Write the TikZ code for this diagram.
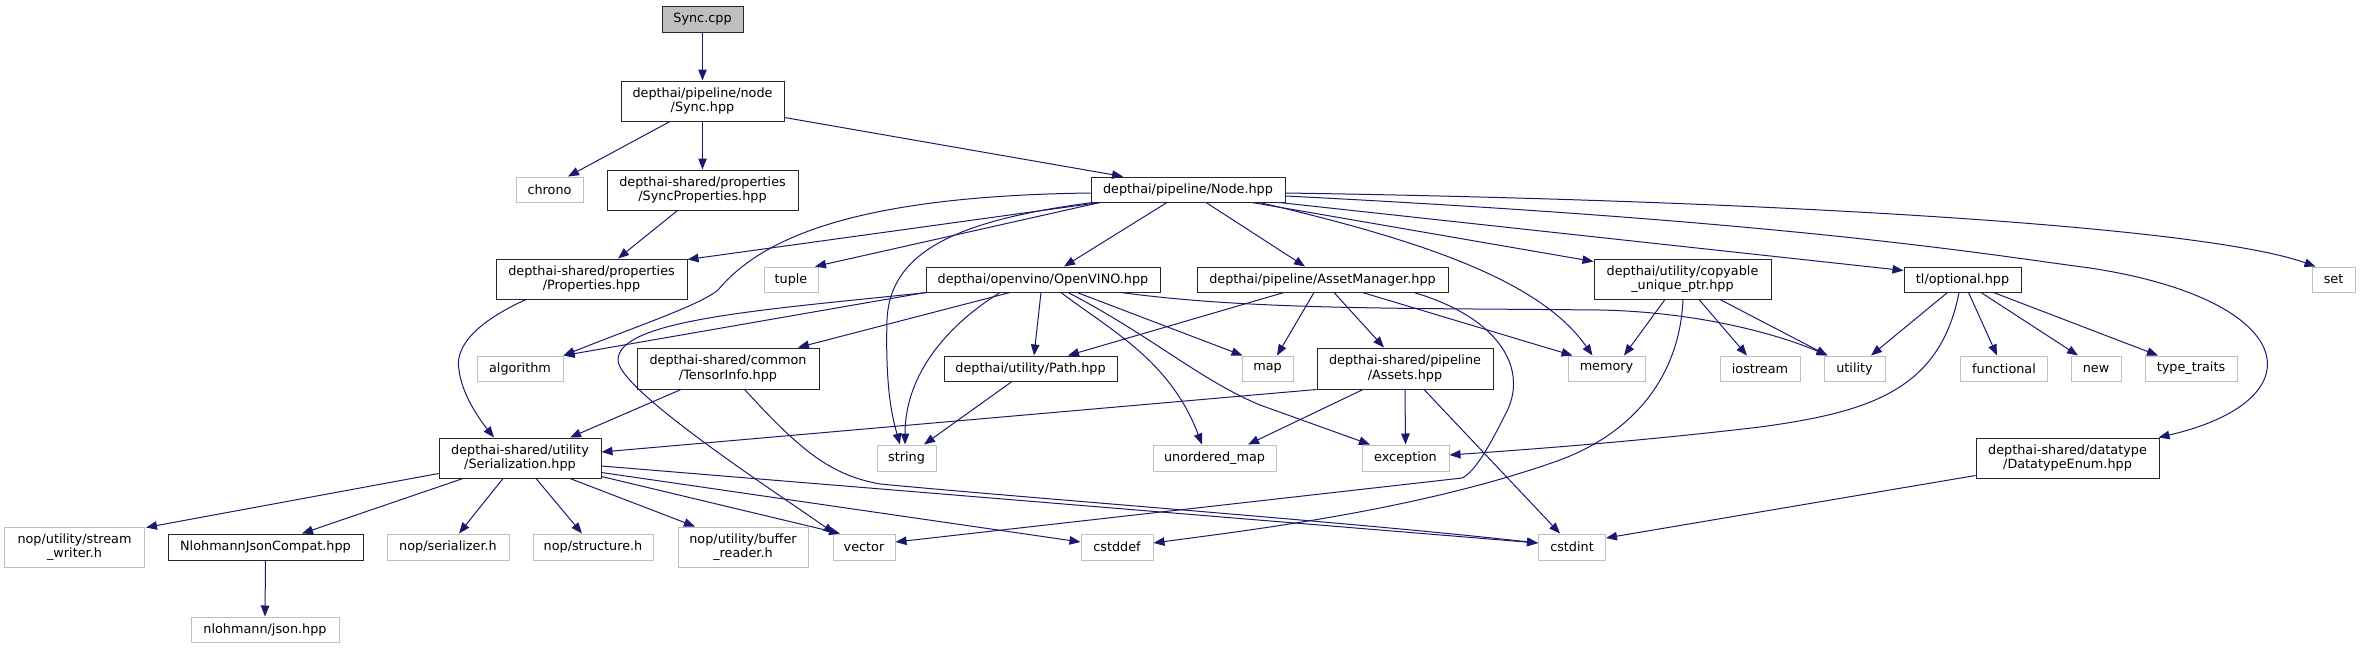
\documentclass[tikz,border=0pt]{standalone}
\usepackage{fontspec}
\setmainfont{DejaVu Sans}
\usetikzlibrary{arrows.meta,calc}
\definecolor{edgec}{HTML}{191970}
\definecolor{greyb}{HTML}{BFBFBF}
\begin{document}
\begin{tikzpicture}[x=1pt,y=-1pt,
  box/.style={draw=black!85,line width=1pt,fill=white,inner sep=0pt,align=center,font=\fontsize{12.8}{14.5}\selectfont,minimum height=25pt},
  gbox/.style={box,draw=greyb},
  e/.style={draw=edgec,line width=1pt,-{Triangle[length=11pt,width=8.5pt]}},
]
\useasboundingbox (0,0) rectangle (2360,648);
% nodes
\node[box,minimum width=81pt,minimum height=26pt,fill=greyb] (synccpp) at (702.5,19) {Sync.cpp};
\node[box,minimum width=163pt,minimum height=40pt] (synchpp) at (702.5,101) {depthai/pipeline/node\\/Sync.hpp};
\node[gbox,minimum width=67pt] (chrono) at (549.5,189.5) {chrono};
\node[box,minimum width=191pt,minimum height=40pt] (syncprops) at (702.5,190) {depthai-shared/properties\\/SyncProperties.hpp};
\node[box,minimum width=194pt] (nodehpp) at (1188,189.5) {depthai/pipeline/Node.hpp};
\node[box,minimum width=191pt,minimum height=40pt] (properties) at (591.5,279) {depthai-shared/properties\\/Properties.hpp};
\node[gbox,minimum width=54pt] (tuple) at (791,279.5) {tuple};
\node[box,minimum width=234pt] (openvino) at (1043,279.5) {depthai/openvino/OpenVINO.hpp};
\node[box,minimum width=251pt] (assetmgr) at (1322.5,279.5) {depthai/pipeline/AssetManager.hpp};
\node[box,minimum width=177pt,minimum height=40pt] (copyable) at (1682.5,279) {depthai/utility/copyable\\\_unique\_ptr.hpp};
\node[box,minimum width=117pt] (optional) at (1962.5,279.5) {tl/optional.hpp};
\node[gbox,minimum width=43pt] (seth) at (2333.5,279.5) {set};
\node[gbox,minimum width=86pt] (algorithm) at (520,368.5) {algorithm};
\node[box,minimum width=182pt,minimum height=41pt] (tensorinfo) at (728,368.5) {depthai-shared/common\\/TensorInfo.hpp};
\node[box,minimum width=173pt] (pathhpp) at (1030.5,368.5) {depthai/utility/Path.hpp};
\node[gbox,minimum width=51pt] (maph) at (1267.5,368.5) {map};
\node[box,minimum width=176pt,minimum height=41pt] (assets) at (1405,368.5) {depthai-shared/pipeline\\/Assets.hpp};
\node[gbox,minimum width=77pt] (memory) at (1606.5,368.5) {memory};
\node[gbox,minimum width=80pt] (iostream) at (1760,368.5) {iostream};
\node[gbox,minimum width=61pt] (utilityh) at (1854.5,368.5) {utility};
\node[gbox,minimum width=87pt] (functional) at (2004,368.5) {functional};
\node[gbox,minimum width=50pt] (newh) at (2096,368.5) {new};
\node[gbox,minimum width=92pt] (typetraits) at (2191,368.5) {type\_traits};
\node[box,minimum width=162pt,minimum height=40pt] (serial) at (520,458) {depthai-shared/utility\\/Serialization.hpp};
\node[gbox,minimum width=59pt,minimum height=26pt] (stringh) at (906.5,458) {string};
\node[gbox,minimum width=123pt,minimum height=26pt] (umap) at (1214.5,458) {unordered\_map};
\node[gbox,minimum width=87pt,minimum height=26pt] (exception) at (1405.5,458) {exception};
\node[box,minimum width=183pt,minimum height=40pt] (dtenum) at (2067.5,458) {depthai-shared/datatype\\/DatatypeEnum.hpp};
\node[gbox,minimum width=140pt,minimum height=40pt] (swriter) at (74.5,547) {nop/utility/stream\\\_writer.h};
\node[box,minimum width=195pt,minimum height=26pt] (njc) at (265.5,547) {NlohmannJsonCompat.hpp};
\node[gbox,minimum width=122pt,minimum height=26pt] (nopser) at (448,547) {nop/serializer.h};
\node[gbox,minimum width=120pt,minimum height=26pt] (nopstr) at (593,547) {nop/structure.h};
\node[gbox,minimum width=130pt,minimum height=40pt] (breader) at (743,547) {nop/utility/buffer\\\_reader.h};
\node[gbox,minimum width=62pt,minimum height=26pt] (vectorh) at (864,547) {vector};
\node[gbox,minimum width=72pt,minimum height=26pt] (cstddef) at (1117,547) {cstddef};
\node[gbox,minimum width=67pt,minimum height=26pt] (cstdint) at (1572,547) {cstdint};
\node[gbox,minimum width=148pt] (njson) at (265,629.5) {nlohmann/json.hpp};
% edges
\draw[e] (synccpp.south) -- (synchpp.north);
\draw[e] ($(synchpp.south)+(-32.5,0)$) -- ($(chrono.north)+(18.5,0)$);
\draw[e] (synchpp.south) -- (syncprops.north);
\draw[e] ($(synchpp.south east)+(0,-4)$) -- ($(nodehpp.north)+(-65,0)$);
\draw[e] ($(syncprops.south)+(-25,0)$) -- ($(properties.north)+(26.5,0)$);
\draw[e] ($(nodehpp.south)+(-88,0)$) -- ($(properties.north east)+(0,1)$);
\draw[e] ($(nodehpp.south)+(-88,0)$) -- ($(tuple.north)+(24,0)$);
\draw[e] ($(nodehpp.south)+(-21,0)$) -- ($(openvino.north)+(21,0)$);
\draw[e] ($(nodehpp.south)+(18,0)$) -- ($(assetmgr.north)+(-17.5,0)$);
\draw[e] ($(nodehpp.south)+(64,0)$) -- ($(copyable.north west)+(0,3)$);
\draw[e] ($(nodehpp.south)+(91,0)$) -- ($(optional.north west)+(0,4)$);
\draw[e] ($(nodehpp.east)+(0,3.5)$) .. controls (1750,200) and (2200,225) .. ($(seth.north west)+(4,0)$);
\draw[e] ($(nodehpp.east)+(0,6.5)$) .. controls (1800,222) and (1990,255) .. (2090,268) .. controls (2300,300) and (2320,400) .. ($(dtenum.north east)+(-1,0)$);
\draw[e] ($(nodehpp.west)+(0,3.5)$) .. controls (850,196) and (760,240) .. (718,290) .. controls (700,305) and (640,325) .. (algorithm.north east);
\draw[e] ($(nodehpp.south west)+(2,0)$) .. controls (960,220) and (890,250) .. (887,320) .. controls (885,390) and (893,420) .. ($(stringh.north)+(-6.5,0)$);
\draw[e] ($(nodehpp.south)+(71.5,0)$) .. controls (1420,240) and (1540,280) .. ($(memory.north)+(-14,0)$);
% OpenVINO
\draw[e] (openvino.south west) -- (algorithm.north east);
\draw[e] ($(openvino.south west)+(2,0)$) .. controls (760,310) and (618,320) .. (618,360) .. controls (618,390) and (780,495) .. ($(vectorh.north west)+(2,0)$);
\draw[e] ($(openvino.south)+(-33,0)$) -- ($(tensorinfo.north)+(70,0)$);
\draw[e] ($(openvino.south)+(-43,0)$) .. controls (940,330) and (905,380) .. ($(stringh.north)+(-1.5,0)$);
\draw[e] ($(openvino.south)+(-2,0)$) -- ($(pathhpp.north)+(3.5,0)$);
\draw[e] ($(openvino.south)+(34,0)$) -- ($(maph.north west)+(1,0)$);
\draw[e] ($(openvino.south)+(18,0)$) .. controls (1110,330) and (1170,360) .. ($(umap.north)+(-12.5,0)$);
\draw[e] ($(openvino.south)+(25,0)$) .. controls (1150,335) and (1200,380) .. (1260,405) -- ($(exception.north)+(-35.5,0)$);
\draw[e] ($(openvino.south)+(78,0)$) .. controls (1250,310) and (1400,308) .. (1600,310) .. controls (1700,312) and (1780,335) .. ($(utilityh.north west)+(4,0)$);
% AssetManager
\draw[e] ($(assetmgr.south)+(-38.5,0)$) -- ($(pathhpp.north)+(37.5,0)$);
\draw[e] ($(assetmgr.south)+(-8.5,0)$) -- ($(maph.north)+(9.5,0)$);
\draw[e] ($(assetmgr.south)+(11.5,0)$) -- ($(assets.north)+(-21,0)$);
\draw[e] ($(assetmgr.south)+(40,0)$) -- ($(memory.north west)+(5,0)$);
\draw[e] ($(assetmgr.south)+(91.5,0)$) .. controls (1500,318) and (1530,370) .. (1505,415) .. controls (1490,445) and (1475,472) .. (1462,478) -- ($(vectorh.east)+(0,-5)$);
% copyable
\draw[e] ($(copyable.south)+(-17.5,0)$) -- ($(memory.north)+(17.5,0)$);
\draw[e] ($(copyable.south)+(16.5,0)$) -- ($(iostream.north)+(-13,0)$);
\draw[e] ($(copyable.south)+(37.5,0)$) -- ($(utilityh.north west)+(4,0)$);
\draw[e] ($(copyable.south)+(0.5,0)$) .. controls (1680,370) and (1640,430) .. (1560,460) .. controls (1420,510) and (1250,530) .. ($(cstddef.east)+(0,-4)$);
% optional
\draw[e] ($(optional.south)+(-15,0)$) -- ($(utilityh.north)+(16.5,0)$);
\draw[e] ($(optional.south)+(-3.5,0)$) .. controls (1940,390) and (1870,412) .. (1760,427) .. controls (1650,440) and (1550,448) .. ($(exception.east)+(0,-3)$);
\draw[e] ($(optional.south)+(6,0)$) -- ($(functional.north)+(-7,0)$);
\draw[e] ($(optional.south)+(18.5,0)$) -- ($(newh.north)+(-18,0)$);
\draw[e] ($(optional.south)+(31,0)$) -- ($(typetraits.north)+(-33,0)$);
% properties
\draw[e] ($(properties.south)+(-65.5,0)$) .. controls (470,325) and (455,350) .. (459,370) .. controls (462,395) and (480,420) .. ($(serial.north)+(-26,0)$);
% tensorinfo
\draw[e] ($(tensorinfo.south)+(-47,0)$) -- ($(serial.north)+(50,0)$);
\draw[e] ($(tensorinfo.south)+(16.6,0)$) .. controls (800,450) and (830,475) .. (880,484) .. controls (1050,500) and (1350,522) .. ($(cstdint.west)+(0,-4)$);
% assets
\draw[e] (assets.south west) -- ($(serial.east)+(0,-6)$);
\draw[e] ($(assets.south)+(-42,0)$) -- ($(umap.north)+(33.5,0)$);
\draw[e] (assets.south) -- (exception.north);
\draw[e] ($(assets.south)+(19,0)$) -- ($(cstdint.north)+(-12,0)$);
% path
\draw[e] ($(pathhpp.south)+(-18.5,0)$) -- ($(stringh.north)+(17.5,0)$);
% serialization
\draw[e] ($(serial.south west)+(0,-5)$) -- ($(swriter.north east)+(1,1)$);
\draw[e] ($(serial.south)+(-57,0)$) -- ($(njc.north)+(36.5,0)$);
\draw[e] ($(serial.south)+(-17,0)$) -- ($(nopser.north)+(11,0)$);
\draw[e] ($(serial.south)+(16,0)$) -- ($(nopstr.north)+(-11,0)$);
\draw[e] ($(serial.south)+(50,0)$) -- ($(breader.north)+(-48,0)$);
\draw[e] ($(serial.south east)+(0,-2)$) -- ($(vectorh.north)+(-24,0)$);
\draw[e] ($(serial.south east)+(0,-6)$) -- ($(cstddef.west)+(0,-5)$);
\draw[e] ($(serial.east)+(0,8)$) -- ($(cstdint.west)+(0,-4)$);
\draw[e] (njc.south) -- (njson.north);
\draw[e] ($(dtenum.south west)+(0,-3)$) -- ($(cstdint.east)+(0,-9)$);
\end{tikzpicture}
\end{document}
